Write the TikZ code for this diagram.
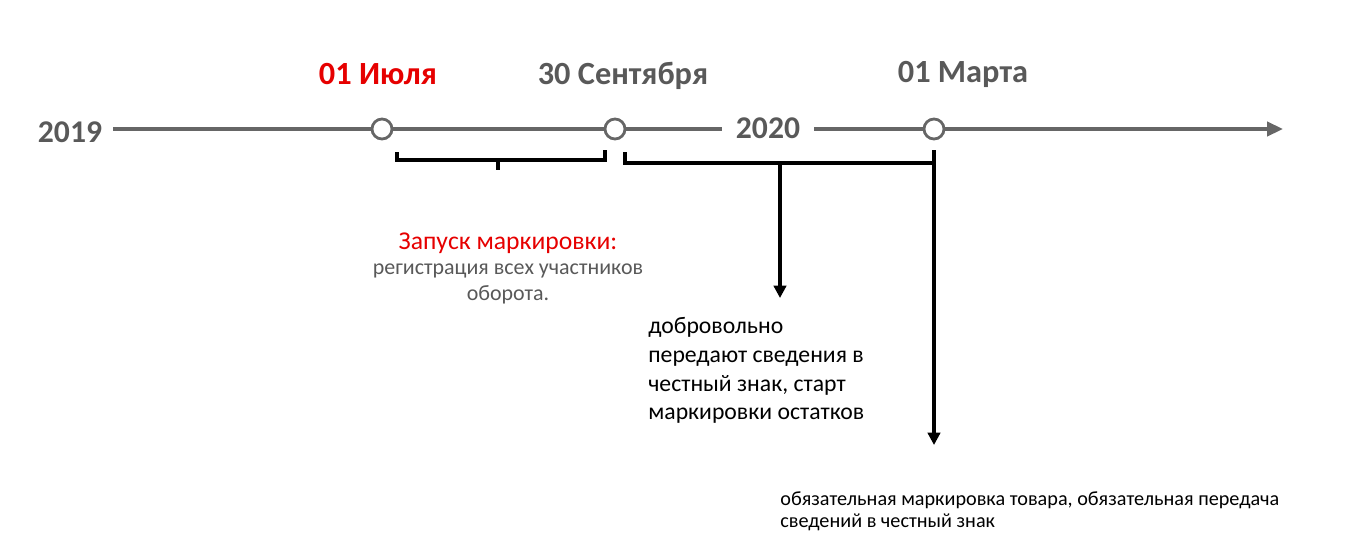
\documentclass[tikz,border=0pt]{standalone}
\usepackage{fontspec}
\setmainfont{Carlito}
\usepackage{xcolor}
\usetikzlibrary{arrows.meta}
\definecolor{axisgray}{RGB}{102,102,102}
\definecolor{labelgray}{RGB}{89,89,89}
\definecolor{markred}{RGB}{230,0,0}

\begin{document}
\begin{tikzpicture}[x=0.02cm, y=-0.02cm,
    axis/.style={draw=axisgray, line width=2pt},
    dot/.style={circle, draw=axisgray, fill=white, line width=1.6pt, minimum size=0.4cm, inner sep=0pt},
    year/.style={font=\fontsize{18}{20}\selectfont\bfseries, text=labelgray, inner sep=2pt},
    date/.style={font=\fontsize{18.4}{21}\selectfont\bfseries, text=labelgray},
    bracket/.style={draw=black, line width=1.8pt},
    note/.style={align=left, anchor=north west, inner sep=0pt}]
    \useasboundingbox (0,0) rectangle (1347,532);

    % timeline
    \node[year] (y2019) at (70,132) {2019};
    \node[year, inner sep=8pt] (y2020) at (768,128) {2020};
    \node[dot] (cjul) at (382,129) {};
    \node[dot] (csep) at (615,129) {};
    \node[dot] (cmar) at (934,129) {};
    \coordinate (tstart) at (113,129);
    \coordinate (tend) at (1283,129);

    \draw[axis] (tstart) -- (cjul);
    \draw[axis] (cjul) -- (csep);
    \draw[axis] (csep) -- (csep -| y2020.west);
    \draw[axis] (cmar -| y2020.east) -- (cmar);
    \draw[axis, -{Triangle[length=9pt, width=8pt]}] (cmar) -- (tend);

    \node[date, text=markred] (jul) at (378,74) {01 Июля};
    \node[date] (sep) at (623,76) {30 Сентября};
    \node[date] (mar) at (963,74) {01 Марта};

    % brackets
    \coordinate (b1a) at (397,152);
    \coordinate (b1b) at (605,150);
    \coordinate (b1m) at (498,160);
    \draw[bracket] (b1a) |- (605,160) -- (b1b);
    \draw[bracket] (b1m) -- (498,170);

    \coordinate (b2a) at (625,152);
    \coordinate (b2m) at (780,163);
    \coordinate (b2b) at (934,150);
    \draw[bracket] (b2a) |- (934,163);

    % notes
    \node[align=center, font=\fontsize{14.6}{14.5}\selectfont] (launch) at (508,268)
        {\textcolor{markred}{Запуск маркировки:}\\
         {\fontsize{12.5}{14.5}\selectfont\textcolor{labelgray}{регистрация всех участников}}\\
         {\fontsize{12.5}{14.5}\selectfont\textcolor{labelgray}{оборота.}}};
    \node[note, font=\fontsize{13.5}{16.4}\selectfont] (vol) at (648,317)
        {добровольно\\передают сведения в\\честный знак, старт\\маркировки остатков};
    \node[note, font=\fontsize{11.5}{13}\selectfont] (must) at (780,491)
        {обязательная маркировка товара, обязательная передача\\сведений в честный знак};

    \coordinate (a2) at (780,298);
    \coordinate (a3) at (934,445);
    \draw[bracket, -{Triangle[length=7pt, width=7pt]}] (b2m) -- (a2);
    \draw[bracket, -{Triangle[length=7pt, width=7pt]}] (b2b) -- (a3);
\end{tikzpicture}
\end{document}
